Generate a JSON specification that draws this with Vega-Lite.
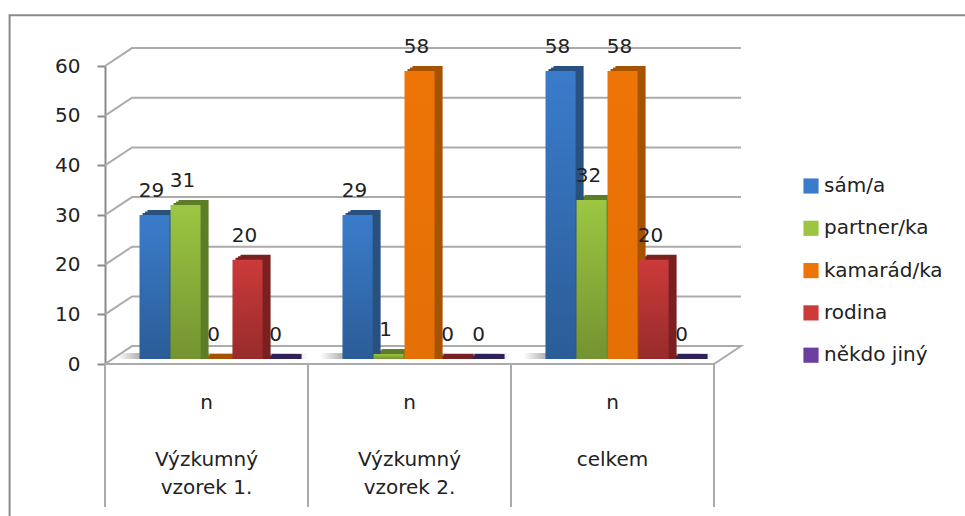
{
  "$schema": "https://vega.github.io/schema/vega-lite/v6.json",
  "width": 609,
  "height": 298,
  "autosize": {"type": "none"},
  "padding": {"left": 105, "top": 66, "right": 251, "bottom": 152},
  "background": "#ffffff",
  "config": {"view": {"stroke": null}, "font": "DejaVu Sans"},
  "datasets": {
    "answers": [
      {"vzorek": "n|\u2800|Výzkumný|vzorek 1.", "odpoved": "sám/a", "pocet": 29},
      {"vzorek": "n|\u2800|Výzkumný|vzorek 1.", "odpoved": "partner/ka", "pocet": 31},
      {"vzorek": "n|\u2800|Výzkumný|vzorek 1.", "odpoved": "kamarád/ka", "pocet": 0},
      {"vzorek": "n|\u2800|Výzkumný|vzorek 1.", "odpoved": "rodina", "pocet": 20},
      {"vzorek": "n|\u2800|Výzkumný|vzorek 1.", "odpoved": "někdo jiný", "pocet": 0},
      {"vzorek": "n|\u2800|Výzkumný|vzorek 2.", "odpoved": "sám/a", "pocet": 29},
      {"vzorek": "n|\u2800|Výzkumný|vzorek 2.", "odpoved": "partner/ka", "pocet": 1},
      {"vzorek": "n|\u2800|Výzkumný|vzorek 2.", "odpoved": "kamarád/ka", "pocet": 58},
      {"vzorek": "n|\u2800|Výzkumný|vzorek 2.", "odpoved": "rodina", "pocet": 0},
      {"vzorek": "n|\u2800|Výzkumný|vzorek 2.", "odpoved": "někdo jiný", "pocet": 0},
      {"vzorek": "n|\u2800|celkem", "odpoved": "sám/a", "pocet": 58},
      {"vzorek": "n|\u2800|celkem", "odpoved": "partner/ka", "pocet": 32},
      {"vzorek": "n|\u2800|celkem", "odpoved": "kamarád/ka", "pocet": 58},
      {"vzorek": "n|\u2800|celkem", "odpoved": "rodina", "pocet": 20},
      {"vzorek": "n|\u2800|celkem", "odpoved": "někdo jiný", "pocet": 0}
    ],
    "walls": [
      {"path": "g10", "k": 1, "wx": 0, "wy": 10}, {"path": "g10", "k": 2, "wx": 0.133, "wy": 13.6}, {"path": "g10", "k": 3, "wx": 3.133, "wy": 13.6},
      {"path": "g20", "k": 1, "wx": 0, "wy": 20}, {"path": "g20", "k": 2, "wx": 0.133, "wy": 23.6}, {"path": "g20", "k": 3, "wx": 3.133, "wy": 23.6},
      {"path": "g30", "k": 1, "wx": 0, "wy": 30}, {"path": "g30", "k": 2, "wx": 0.133, "wy": 33.6}, {"path": "g30", "k": 3, "wx": 3.133, "wy": 33.6},
      {"path": "g40", "k": 1, "wx": 0, "wy": 40}, {"path": "g40", "k": 2, "wx": 0.133, "wy": 43.6}, {"path": "g40", "k": 3, "wx": 3.133, "wy": 43.6},
      {"path": "g50", "k": 1, "wx": 0, "wy": 50}, {"path": "g50", "k": 2, "wx": 0.133, "wy": 53.6}, {"path": "g50", "k": 3, "wx": 3.133, "wy": 53.6},
      {"path": "g60", "k": 1, "wx": 0, "wy": 60}, {"path": "g60", "k": 2, "wx": 0.133, "wy": 63.6}, {"path": "g60", "k": 3, "wx": 3.133, "wy": 63.6},
      {"path": "floor", "k": 1, "wx": 0, "wy": 0}, {"path": "floor", "k": 2, "wx": 0.133, "wy": 3.6}, {"path": "floor", "k": 3, "wx": 3.133, "wy": 3.6}, {"path": "floor", "k": 4, "wx": 3, "wy": 0}, {"path": "floor", "k": 5, "wx": 0, "wy": 0},
      {"path": "t0", "k": 1, "wx": 0, "wy": 0}, {"path": "t0", "k": 2, "wx": 0, "wy": -28.8},
      {"path": "t1", "k": 1, "wx": 1, "wy": 0}, {"path": "t1", "k": 2, "wx": 1, "wy": -28.8},
      {"path": "t2", "k": 1, "wx": 2, "wy": 0}, {"path": "t2", "k": 2, "wx": 2, "wy": -28.8},
      {"path": "t3", "k": 1, "wx": 3, "wy": 0}, {"path": "t3", "k": 2, "wx": 3, "wy": -28.8}
    ],
    "border": [
      {"k": 1, "wx": -0.47, "wy": -35}, {"k": 2, "wx": -0.47, "wy": 70.2}, {"k": 3, "wx": 4.4, "wy": 70.2}
    ]
  },
  "resolve": {"scale": {"x": "independent"}},
  "layer": [
    {
      "data": {"name": "border"},
      "mark": {"type": "line", "color": "#8a8a8a", "strokeWidth": 2},
      "encoding": {
        "x": {"field": "wx", "type": "quantitative", "axis": null, "scale": {"domain": [0, 3], "nice": false, "zero": false}},
        "y": {
          "field": "wy",
          "type": "quantitative",
          "title": null,
          "scale": {"domain": [0, 60], "nice": false},
          "axis": {
            "values": [0, 10, 20, 30, 40, 50, 60],
            "grid": false,
            "domainColor": "#8a8a8a",
            "domainWidth": 2,
            "tickColor": "#8a8a8a",
            "tickWidth": 2,
            "tickSize": 8,
            "labelPadding": 17,
            "labelFontSize": 20,
            "labelColor": "#222222"
          }
        },
        "order": {"field": "k"}
      }
    },
    {
      "data": {"name": "walls"},
      "mark": {"type": "line", "color": "#ababab", "strokeWidth": 2},
      "encoding": {
        "x": {"field": "wx", "type": "quantitative", "axis": null, "scale": {"domain": [0, 3], "nice": false, "zero": false}},
        "y": {"field": "wy", "type": "quantitative", "title": null, "scale": {"domain": [0, 60], "nice": false}},
        "detail": {"field": "path"},
        "order": {"field": "k"}
      }
    },
    {
      "data": {"name": "answers"},
      "encoding": {
        "x": {
          "field": "vzorek",
          "type": "nominal",
          "sort": null,
          "title": null,
          "scale": {"paddingInner": 0, "paddingOuter": 0},
          "axis": {
            "domain": false,
            "ticks": false,
            "labelAngle": 0,
            "labelFontSize": 20,
            "labelColor": "#222222",
            "labelPadding": 28,
            "labelLineHeight": 28.5,
            "labelExpr": "split(datum.value, '|')"
          }
        },
        "y": {
          "field": "pocet",
          "type": "quantitative",
          "title": null,
          "stack": null,
          "scale": {"domain": [0, 60], "nice": false}
        }
      },
      "resolve": {"scale": {"color": "independent", "xOffset": "independent"}},
      "layer": [
        {
          "transform": [
            {"aggregate": [{"op": "min", "field": "pocet", "as": "nejnizsi"}], "groupby": ["vzorek"]}
          ],
          "mark": {
            "type": "bar",
            "yOffset": -11,
            "y2Offset": -5,
            "fill": {
              "gradient": "linear",
              "x1": 0, "y1": 0, "x2": 1, "y2": 0,
              "stops": [
                {"offset": 0.06, "color": "rgba(184,184,184,0)"},
                {"offset": 0.16, "color": "rgba(184,184,184,1)"},
                {"offset": 0.92, "color": "rgba(212,212,212,1)"},
                {"offset": 1, "color": "rgba(212,212,212,0)"}
              ]
            }
          },
          "encoding": {
            "y": {"field": "nejnizsi", "type": "quantitative", "title": null, "stack": null},
            "y2": {"datum": 0}
          }
        },
        {
          "mark": {"type": "bar", "yOffset": -7, "y2Offset": -5},
          "encoding": {
            "y2": {"datum": 0},
            "xOffset": {"field": "odpoved", "type": "nominal", "sort": ["sám/a", "partner/ka", "kamarád/ka", "rodina", "někdo jiný"], "scale": {"paddingInner": 0.03, "paddingOuter": 0.79, "align": 0.767}},
            "color": {"field": "odpoved", "type": "nominal", "legend": null, "scale": {"domain": ["sám/a", "partner/ka", "kamarád/ka", "rodina", "někdo jiný"], "range": ["#28517f", "#5d7c28", "#a65300", "#7a2020", "#2f2158"]}}
          }
        },
        {
          "mark": {"type": "bar", "yOffset": -8.5, "y2Offset": -5},
          "encoding": {
            "y2": {"datum": 0},
            "xOffset": {"field": "odpoved", "type": "nominal", "sort": ["sám/a", "partner/ka", "kamarád/ka", "rodina", "někdo jiný"], "scale": {"paddingInner": 0.03, "paddingOuter": 0.79, "align": 0.818}},
            "color": {"field": "odpoved", "type": "nominal", "legend": null, "scale": {"domain": ["sám/a", "partner/ka", "kamarád/ka", "rodina", "někdo jiný"], "range": ["#28517f", "#5d7c28", "#a65300", "#7a2020", "#2f2158"]}}
          }
        },
        {
          "mark": {"type": "bar", "yOffset": -10, "y2Offset": -5},
          "encoding": {
            "y2": {"datum": 0},
            "xOffset": {"field": "odpoved", "type": "nominal", "sort": ["sám/a", "partner/ka", "kamarád/ka", "rodina", "někdo jiný"], "scale": {"paddingInner": 0.03, "paddingOuter": 0.79, "align": 0.869}},
            "color": {"field": "odpoved", "type": "nominal", "legend": null, "scale": {"domain": ["sám/a", "partner/ka", "kamarád/ka", "rodina", "někdo jiný"], "range": ["#28517f", "#5d7c28", "#a65300", "#7a2020", "#2f2158"]}}
          }
        },
        {
          "mark": {"type": "bar", "yOffset": -5, "y2Offset": -5},
          "encoding": {
            "y2": {"datum": 0},
            "xOffset": {"field": "odpoved", "type": "nominal", "sort": ["sám/a", "partner/ka", "kamarád/ka", "rodina", "někdo jiný"], "scale": {"paddingInner": 0.03, "paddingOuter": 0.79, "align": 0.705}},
            "color": {
              "field": "odpoved",
              "type": "nominal",
              "title": null,
              "scale": {"domain": ["sám/a", "partner/ka", "kamarád/ka", "rodina", "někdo jiný"], "range": ["#3a7ccb", "#9cc642", "#ee7406", "#cc3a3a", "#6b3f9e"]},
              "legend": {
                "orient": "none",
                "legendX": 696,
                "legendY": 110,
                "symbolType": "square",
                "symbolSize": 230,
                "symbolStrokeWidth": 0,
                "labelFontSize": 20,
                "labelColor": "#222222",
                "labelOffset": 3,
                "rowPadding": 22.3
              }
            }
          }
        },
        {
          "mark": {
            "type": "bar",
            "yOffset": -5,
            "y2Offset": -5,
            "fill": {
              "gradient": "linear",
              "x1": 0, "y1": 0, "x2": 0, "y2": 1,
              "stops": [
                {"offset": 0, "color": "rgba(0,0,0,0)"},
                {"offset": 1, "color": "rgba(0,0,0,0.26)"}
              ]
            }
          },
          "encoding": {
            "y2": {"datum": 0},
            "xOffset": {"field": "odpoved", "type": "nominal", "sort": ["sám/a", "partner/ka", "kamarád/ka", "rodina", "někdo jiný"], "scale": {"paddingInner": 0.03, "paddingOuter": 0.79, "align": 0.705}},
            "fillOpacity": {"condition": {"test": "datum.odpoved === 'kamarád/ka'", "value": 0.15}, "value": 1}
          }
        },
        {
          "mark": {"type": "text", "fontSize": 20, "color": "#222222", "dx": -3, "dy": -29, "baseline": "middle"},
          "encoding": {
            "xOffset": {"field": "odpoved", "type": "nominal", "sort": ["sám/a", "partner/ka", "kamarád/ka", "rodina", "někdo jiný"], "scale": {"type": "band", "paddingInner": 0.03, "paddingOuter": 0.79, "align": 0.705}},
            "text": {"field": "pocet", "type": "quantitative"}
          }
        }
      ]
    }
  ]
}
